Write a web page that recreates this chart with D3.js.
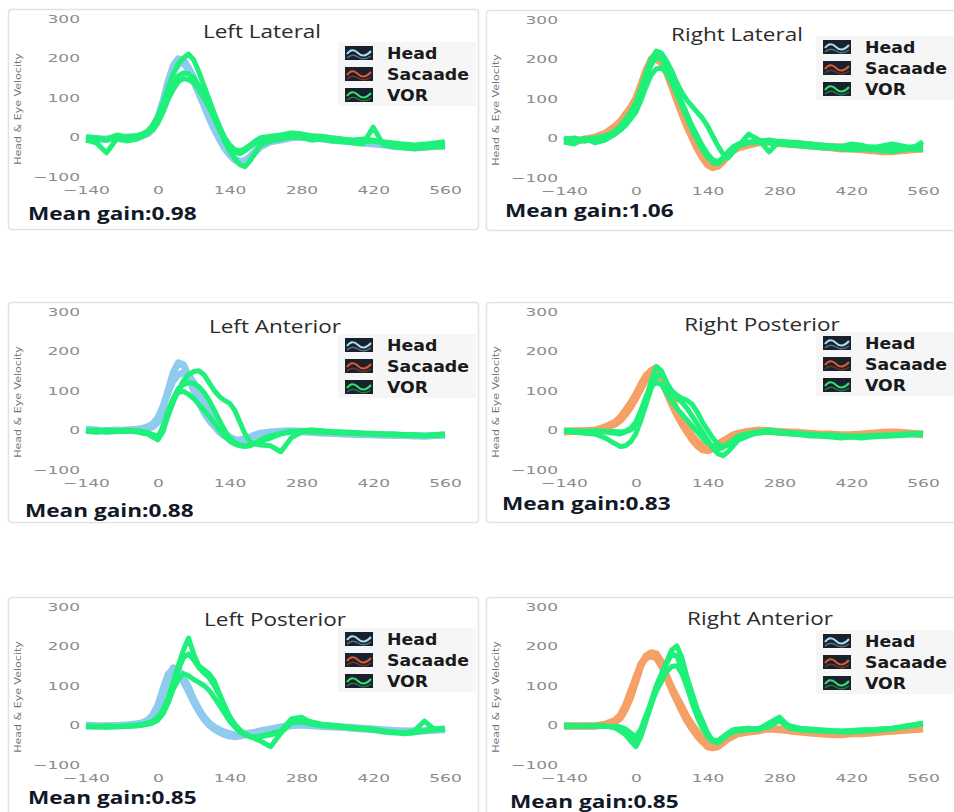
<!DOCTYPE html>
<html>
<head>
<meta charset="utf-8">
<script src="https://cdn.jsdelivr.net/npm/d3@7"></script>
<style>
  body { margin: 0; background: #fff; }
</style>
</head>
<body>
<div id="chart"></div>
<script>
// sample times (ms) shared by every trace
var timeMs = [-140, -120, -100, -80, -60, -40, -30, -20, -10, 0, 10, 20, 30, 40, 50, 60, 70, 80, 90, 100,
  110, 120, 130, 140, 150, 160, 170, 180, 190, 200, 220, 240, 260, 280, 300, 320, 340, 360, 380, 400,
  420, 440, 460, 480, 500, 520, 540, 560];

var panelNames = ['Left Lateral', 'Right Lateral', 'Left Anterior', 'Right Posterior', 'Left Posterior', 'Right Anterior'];
var meanGains = ['0.98', '1.06', '0.88', '0.83', '0.85', '0.85'];
var legendLabels = ['Head', 'Sacaade', 'VOR'];
var xTicks = [-140, 0, 140, 280, 420, 560];
var yTicks = [-100, 0, 100, 200, 300];

// Left Lateral
var leftLateralHead = [
  [-5,-8,-5,-3,0,2,5,10,25,50,90,140,180,198,195,175,150,120,90,60,30,5,-20,-40,-55,-62,-60,-50,-35,-22,-10,-5,0,2,0,-3,-5,-8,-10,-12,-15,-18,-20,-22,-25,-25,-22,-20],
  [-2,-4,-6,0,-2,0,3,8,20,42,80,125,165,185,188,170,140,110,80,48,20,-5,-28,-45,-58,-65,-62,-52,-38,-25,-12,-8,-2,0,-2,-5,-8,-10,-12,-15,-18,-20,-24,-25,-28,-26,-24,-22]
];
var leftLateralVor = [
  [-5,-3,-8,0,-2,0,5,12,22,40,70,105,135,155,162,160,150,130,105,80,50,20,-5,-25,-38,-42,-35,-25,-15,-8,-3,0,5,2,-2,0,-5,-8,-10,-12,-10,-15,-20,-22,-25,-22,-20,-18],
  [0,-2,-5,5,0,3,8,15,30,52,85,125,160,185,200,210,195,165,130,95,60,28,0,-20,-32,-35,-30,-20,-10,-2,2,5,10,8,3,2,-2,-5,-8,-5,-8,-12,-15,-18,-20,-18,-15,-12],
  [-8,-15,-40,-5,-10,-5,2,8,18,35,62,95,120,140,148,145,138,120,98,75,48,20,-10,-35,-55,-70,-75,-60,-40,-20,-10,-5,0,-2,-8,-5,-10,-12,-15,-18,25,-20,-25,-28,-30,-28,-25,-25]
];

// Right Lateral
var rightLateralSaccade = [
  [-8,-5,-5,0,8,25,38,55,72,95,130,170,200,210,200,175,140,105,70,38,8,-20,-45,-62,-72,-70,-58,-42,-30,-22,-15,-10,-8,-12,-15,-15,-18,-20,-22,-22,-25,-28,-30,-28,-32,-30,-28,-25],
  [-5,-10,-3,2,12,30,42,60,78,100,135,172,195,200,190,165,130,95,60,28,0,-28,-50,-68,-75,-72,-60,-45,-32,-25,-18,-12,-10,-14,-16,-18,-20,-22,-25,-28,-28,-30,-32,-35,-35,-32,-30,-28]
];
var rightLateralVor = [
  [-5,0,-8,-3,2,15,25,40,55,75,110,150,185,205,200,180,150,120,90,60,30,5,-20,-40,-55,-60,-50,-35,-22,-15,-10,-8,-5,-10,-12,-15,-15,-18,-20,-22,-20,-25,-22,-25,-28,-25,-22,-20],
  [0,-5,-3,0,5,18,30,48,65,90,125,165,200,220,215,195,170,140,115,95,80,65,50,30,5,-20,-40,-50,-35,-20,10,-5,-35,-8,-10,-12,-15,-18,-20,-22,-15,-18,-25,-20,-15,-20,-25,-10],
  [-10,-15,0,-12,-5,10,20,32,48,65,95,130,160,175,178,165,140,110,80,50,20,-5,-30,-48,-62,-65,-55,-40,-28,-20,-12,-10,-12,-15,-18,-20,-22,-25,-25,-28,-30,-28,-30,-32,-35,-30,-28,-30]
];

// Left Anterior
var leftAnteriorHead = [
  [0,-3,-2,0,-2,0,2,5,8,20,55,100,145,170,165,135,100,70,45,25,10,-5,-15,-22,-25,-25,-22,-18,-12,-8,-5,-3,-2,-3,-5,-6,-8,-8,-10,-10,-12,-12,-12,-14,-14,-15,-14,-12],
  [2,0,-3,-2,0,2,4,8,15,30,60,95,125,140,145,140,120,95,70,45,25,8,-8,-18,-24,-28,-26,-20,-15,-10,-6,-4,-4,-5,-6,-8,-8,-10,-11,-12,-12,-13,-14,-14,-15,-15,-14,-13]
];
var leftAnteriorVor = [
  [-2,0,-5,-3,-2,-5,-8,-10,-18,-25,-5,40,80,105,115,120,118,110,95,75,50,25,0,-20,-32,-38,-40,-38,-35,-30,-20,-10,-5,-2,0,-2,-4,-5,-6,-8,-8,-10,-10,-12,-12,-14,-12,-10],
  [0,-3,0,-2,0,-3,-5,-8,-12,-15,0,35,70,100,125,140,148,150,140,120,100,85,75,68,50,20,-10,-30,-35,-38,-40,-55,-20,-5,0,-3,-5,-6,-8,-8,-10,-10,-12,-12,-14,-15,-14,-12],
  [-3,-5,-2,-4,-3,-2,-4,-6,-12,-20,10,50,80,95,98,90,80,65,50,35,18,0,-15,-28,-36,-40,-42,-40,-32,-25,-15,-8,-3,-4,-5,-6,-7,-8,-9,-10,-11,-12,-12,-13,-14,-14,-13,-12]
];

// Right Posterior
var rightPosteriorSaccade = [
  [-3,-2,-2,0,5,15,25,40,58,80,105,130,150,158,140,110,80,50,25,5,-15,-30,-40,-45,-42,-35,-28,-20,-12,-8,-3,0,-2,-4,-5,-6,-8,-10,-10,-12,-12,-10,-8,-6,-5,-6,-8,-10],
  [-5,-4,-3,-2,8,20,32,50,68,90,115,138,150,148,125,95,65,38,15,-5,-25,-40,-50,-52,-48,-40,-30,-22,-15,-10,-5,-2,-4,-5,-7,-8,-10,-12,-12,-14,-14,-12,-10,-8,-7,-8,-10,-12]
];
var rightPosteriorVor = [
  [-2,-3,-4,-3,-5,-8,-10,-5,0,10,40,80,125,160,150,120,95,80,70,55,35,15,-5,-25,-45,-60,-65,-55,-40,-25,-15,-5,0,-5,-8,-10,-12,-14,-15,-16,-18,-18,-16,-15,-14,-12,-10,-10],
  [-3,-5,-8,-10,-20,-35,-42,-40,-30,-10,25,65,105,135,140,120,100,88,80,75,65,45,20,0,-20,-35,-42,-38,-30,-20,-10,-8,-5,-8,-10,-12,-15,-16,-18,-20,-18,-20,-18,-16,-15,-14,-12,-12],
  [0,-2,-3,-2,-3,-4,-5,-3,5,20,50,85,110,120,115,95,72,55,40,25,10,-5,-20,-32,-42,-48,-45,-35,-25,-15,-8,-4,-2,-4,-6,-8,-10,-12,-12,-14,-15,-15,-14,-13,-12,-10,-9,-8]
];

// Left Posterior
var leftPosteriorHead = [
  [-2,-3,-2,-1,0,2,4,8,18,40,80,120,145,140,120,95,65,40,20,5,-5,-12,-18,-22,-25,-25,-22,-20,-18,-15,-10,-5,0,2,0,-2,-4,-5,-6,-8,-10,-12,-14,-15,-15,-14,-12,-10],
  [0,-2,-4,-2,0,3,6,12,25,50,90,128,140,130,110,85,58,35,15,0,-10,-18,-24,-28,-30,-28,-25,-22,-20,-16,-12,-6,-2,0,-2,-4,-5,-6,-8,-10,-12,-14,-15,-16,-16,-15,-13,-12]
];
var leftPosteriorVor = [
  [-3,-5,-2,-4,-2,0,2,5,10,20,38,70,110,150,190,220,180,150,140,130,112,80,50,20,0,-15,-25,-30,-30,-28,-22,-15,15,20,5,0,-2,-5,-8,-10,-12,-18,-20,-20,-15,10,-12,-10],
  [-5,-3,-6,-3,-4,-2,0,3,8,15,30,60,100,140,170,180,165,145,132,120,100,75,48,22,2,-12,-22,-28,-35,-40,-55,-20,5,12,8,2,0,-3,-6,-8,-10,-15,-18,-22,-20,-15,-12,-8],
  [-2,-4,-3,-5,-3,-2,0,2,5,12,28,55,90,115,130,125,115,108,100,88,70,50,30,10,-5,-18,-25,-30,-32,-30,-25,-18,5,8,2,-2,-4,-6,-8,-10,-12,-15,-18,-20,-18,-14,-10,-8]
];

// Right Anterior
var rightAnteriorSaccade = [
  [-2,-3,-2,-3,0,8,18,40,70,110,150,175,183,180,160,125,95,70,45,20,0,-18,-35,-50,-55,-52,-42,-32,-25,-20,-15,-12,-10,-12,-14,-16,-18,-20,-22,-22,-20,-20,-18,-16,-15,-12,-10,-8],
  [-4,-2,-3,-2,2,12,25,50,85,120,155,170,175,170,150,120,90,62,35,10,-10,-28,-42,-55,-58,-55,-45,-35,-28,-22,-18,-15,-8,-10,-15,-18,-20,-22,-24,-25,-22,-22,-20,-18,-16,-14,-12,-10]
];
var rightAnteriorVor = [
  [-2,-3,-4,-2,-3,-5,-8,-15,-30,-45,-20,20,60,100,130,160,190,200,170,120,80,40,10,-20,-40,-45,-35,-25,-18,-15,-12,-10,5,20,-5,-10,-12,-14,-15,-16,-15,-14,-12,-10,-8,-5,0,5],
  [0,-2,-3,-1,-2,-8,-15,-25,-40,-55,-30,10,50,90,125,155,180,175,140,100,60,25,0,-25,-38,-40,-30,-20,-12,-10,-8,-12,0,10,-8,-12,-14,-15,-16,-18,-18,-16,-15,-12,-10,-6,-2,2],
  [-3,-4,-2,-3,-4,-3,-5,-10,-20,-30,-10,25,55,85,110,135,148,150,130,95,55,20,-8,-30,-42,-40,-32,-22,-15,-12,-10,-8,-5,12,-2,-8,-10,-12,-14,-15,-14,-12,-12,-10,-8,-4,0,3]
];

var panels = [
  { back: leftLateralHead, backKind: 0, vor: leftLateralVor },
  { back: rightLateralSaccade, backKind: 1, vor: rightLateralVor },
  { back: leftAnteriorHead, backKind: 0, vor: leftAnteriorVor },
  { back: rightPosteriorSaccade, backKind: 1, vor: rightPosteriorVor },
  { back: leftPosteriorHead, backKind: 0, vor: leftPosteriorVor },
  { back: rightAnteriorSaccade, backKind: 1, vor: rightAnteriorVor }
];

// layout of each card on the page
var panelX = [8, 486, 8, 486, 8, 486];
var panelY = [9, 10, 302, 302, 597, 597];
var cardH = [220, 220, 220, 220, 240, 240];
var titleX = [254, 251, 267, 276, 267, 274];
var titleY = [23, 25, 25, 23, 23, 22];
var legendY = [44, 37, 43, 41, 42, 44];
var gainX = [20, 19, 17, 16, 20, 24];
var gainY = [204, 200, 208, 201, 200, 204];

var traceColors = ['#8fcbee', '#f4a066', '#1ef07a'];
var iconColors = ['#a9dcf5', '#e2552f', '#34e26e'];

var width = 954;
var height = 812;

var svg = d3.select('#chart')
  .append('svg')
  .attr('width', width)
  .attr('height', height);

svg.append('rect')
  .attr('width', width)
  .attr('height', height)
  .attr('fill', '#fff');

var x = d3.scaleLinear().domain([-140, 560]).range([78, 437]);
var y = d3.scaleLinear().domain([-100, 300]).range([167.5, 9.5]);

var line = d3.line()
  .x(function (d, i) { return x(timeMs[i]); })
  .y(function (d) { return y(d); });

// the source image is stretched sideways, so widen text to match
var stretch = function (sel, factor) {
  sel.each(function () {
    var w = this.getComputedTextLength();
    d3.select(this)
      .attr('textLength', w * factor)
      .attr('lengthAdjust', 'spacingAndGlyphs');
  });
};

panels.forEach(function (p, k) {

  var g = svg.append('g')
    .attr('transform', 'translate(' + panelX[k] + ',' + panelY[k] + ')');

  g.append('rect')
    .attr('x', 0.5)
    .attr('y', 0.5)
    .attr('width', 470)
    .attr('height', cardH[k])
    .attr('rx', 3)
    .attr('fill', '#fff')
    .attr('stroke', '#e2e2e2')
    .attr('stroke-width', 1.5);

  // legend background
  g.append('rect')
    .attr('x', 330)
    .attr('y', legendY[k] - 11)
    .attr('width', 138)
    .attr('height', 64)
    .attr('fill', '#f6f6f6');

  // y axis
  var yAxis = g.append('g')
    .attr('transform', 'translate(72,0)')
    .call(d3.axisLeft(y).tickValues(yTicks).tickSize(0).tickPadding(0));
  yAxis.select('.domain').remove();
  yAxis.attr('font-family', 'DejaVu Sans').attr('font-size', 11);
  yAxis.selectAll('text').attr('fill', '#8c8c8c');
  stretch(yAxis.selectAll('text'), 1.55);

  // x axis
  var xAxis = g.append('g')
    .attr('transform', 'translate(0,177)')
    .call(d3.axisBottom(x).tickValues(xTicks).tickSize(0).tickPadding(0));
  xAxis.select('.domain').remove();
  xAxis.attr('font-family', 'DejaVu Sans').attr('font-size', 11);
  xAxis.selectAll('text').attr('fill', '#8c8c8c');
  stretch(xAxis.selectAll('text'), 1.55);

  var yTitle = g.append('text')
    .attr('transform', 'translate(13,100) rotate(-90)')
    .attr('text-anchor', 'middle')
    .attr('font-family', 'DejaVu Sans')
    .attr('font-size', 8.5)
    .attr('fill', '#777')
    .text('Head & Eye Velocity');
  stretch(yTitle, 1.3);

  // traces: head or saccade underneath, VOR on top
  g.selectAll('.back')
    .data(p.back)
    .enter()
    .append('path')
    .attr('class', 'back')
    .attr('d', line)
    .attr('fill', 'none')
    .attr('stroke', traceColors[p.backKind])
    .attr('stroke-width', 7)
    .attr('stroke-linejoin', 'round');

  g.selectAll('.vor')
    .data(p.vor)
    .enter()
    .append('path')
    .attr('class', 'vor')
    .attr('d', line)
    .attr('fill', 'none')
    .attr('stroke', traceColors[2])
    .attr('stroke-width', 5)
    .attr('stroke-linejoin', 'round');

  var title = g.append('text')
    .attr('x', titleX[k])
    .attr('y', titleY[k] + 6)
    .attr('text-anchor', 'middle')
    .attr('font-family', 'Open Sans')
    .attr('font-size', 18)
    .attr('fill', '#2b2b2b')
    .text(panelNames[k]);
  stretch(title, 1.25);

  // legend
  var leg = g.selectAll('.leg')
    .data(legendLabels)
    .enter()
    .append('g')
    .attr('class', 'leg')
    .attr('transform', function (d, i) { return 'translate(337,' + (legendY[k] + i * 21) + ')'; });

  leg.append('rect')
    .attr('x', 0)
    .attr('y', -7)
    .attr('width', 28)
    .attr('height', 14)
    .attr('fill', '#18212c');

  leg.append('path')
    .attr('d', 'M2,1 Q7,-6 13,0 T26,-2')
    .attr('fill', 'none')
    .attr('stroke', function (d, i) { return iconColors[i]; })
    .attr('stroke-width', 2);

  leg.append('path')
    .attr('d', 'M2,5 Q7,0 13,4 T26,3')
    .attr('fill', 'none')
    .attr('stroke', function (d, i) { return iconColors[i]; })
    .attr('stroke-opacity', 0.45)
    .attr('stroke-width', 1.5);

  var legText = leg.append('text')
    .attr('x', 42)
    .attr('y', 6)
    .attr('font-family', 'DejaVu Sans')
    .attr('font-weight', 'bold')
    .attr('font-size', 16.5)
    .attr('fill', '#1a1a1a')
    .text(function (d) { return d; });
  stretch(legText, 1.05);

  var gain = g.append('text')
    .attr('x', gainX[k])
    .attr('y', gainY[k] + 7)
    .attr('font-family', 'Open Sans')
    .attr('font-weight', 'bold')
    .attr('font-size', 18.5)
    .attr('fill', '#111827')
    .text('Mean gain:' + meanGains[k]);
  stretch(gain, 1.22);
});
</script>
</body>
</html>
